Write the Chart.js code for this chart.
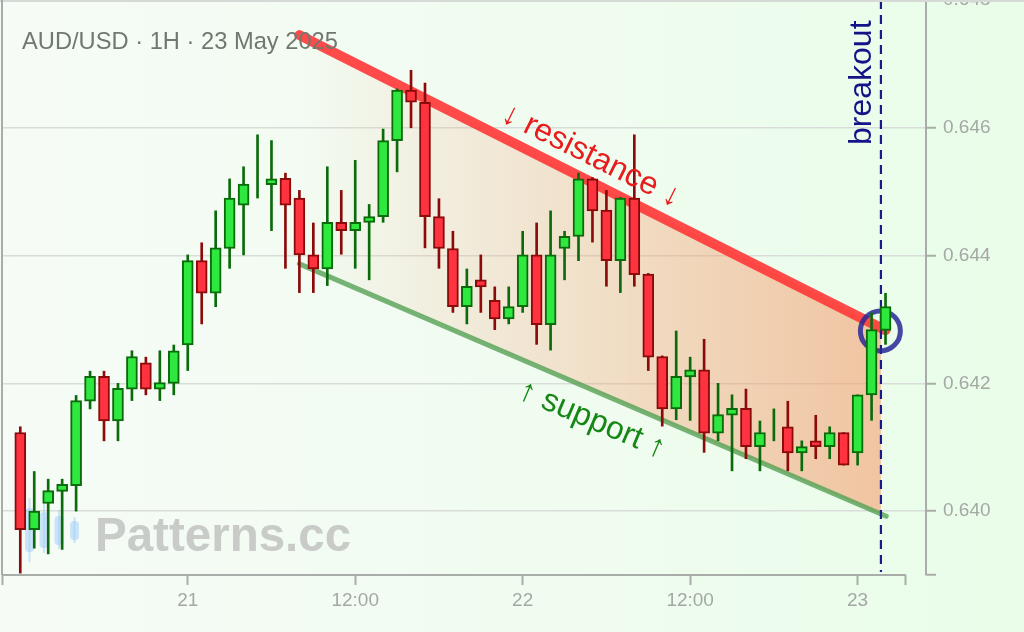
<!DOCTYPE html>
<html>
<head>
<meta charset="utf-8">
<title>AUD/USD 1H</title>
<script src="https://cdn.jsdelivr.net/npm/chart.js@4.4.1/dist/chart.umd.min.js"></script>
<style>
  html, body { margin: 0; padding: 0; width: 1024px; height: 632px; overflow: hidden; }
  body { background: linear-gradient(90deg, #f6fbf6 0%, #f0fcf0 55%, #e9fde9 100%); }
  #c { display: block; }
</style>
</head>
<body>
<canvas id="c" width="1024" height="632"></canvas>
<script>
// ------------------------------------------------------------
// data (hours counted from 20 May 00:00)
// ------------------------------------------------------------
const hours = [12, 13, 14, 15, 16, 17, 18, 19, 20, 21, 22, 23,
  24, 25, 26, 27, 28, 29, 30, 31, 32, 33, 34, 35,
  36, 37, 38, 39, 40, 41, 42, 43, 44, 45, 46, 47,
  48, 49, 50, 51, 52, 53, 54, 55, 56, 57, 58, 59,
  60, 61, 62, 63, 64, 65, 66, 67, 68, 69, 70, 71,
  72, 73, 74];

const opens = [0.64123, 0.63971, 0.64012, 0.64031, 0.64040, 0.64172, 0.64211, 0.64141, 0.64191, 0.64232, 0.64191, 0.64200,
  0.64260, 0.64392, 0.64341, 0.64411, 0.64479, 0.64512, 0.64511, 0.64521, 0.64490, 0.64401, 0.64379, 0.64452,
  0.64439, 0.64452, 0.64461, 0.64580, 0.64659, 0.64640, 0.64461, 0.64411, 0.64320, 0.64362, 0.64330, 0.64301,
  0.64320, 0.64401, 0.64292, 0.64411, 0.64430, 0.64520, 0.64471, 0.64392, 0.64490, 0.64371, 0.64242, 0.64160,
  0.64210, 0.64221, 0.64122, 0.64150, 0.64161, 0.64101, 0.64125, 0.64132, 0.64091, 0.64110, 0.64101, 0.64123,
  0.64091, 0.64182, 0.64283];
const highs = [0.64132, 0.64062, 0.64050, 0.64050, 0.64181, 0.64219, 0.64219, 0.64200, 0.64251, 0.64241, 0.64251, 0.64260,
  0.64401, 0.64420, 0.64470, 0.64520, 0.64539, 0.64589, 0.64580, 0.64529, 0.64502, 0.64451, 0.64539, 0.64502,
  0.64549, 0.64480, 0.64598, 0.64661, 0.64690, 0.64670, 0.64489, 0.64438, 0.64379, 0.64401, 0.64351, 0.64351,
  0.64438, 0.64451, 0.64470, 0.64438, 0.64529, 0.64522, 0.64502, 0.64491, 0.64589, 0.64372, 0.64243, 0.64282,
  0.64241, 0.64269, 0.64200, 0.64182, 0.64191, 0.64141, 0.64160, 0.64172, 0.64110, 0.64150, 0.64132, 0.64123,
  0.64182, 0.64310, 0.64341];
const lows = [0.63903, 0.63942, 0.63933, 0.63940, 0.64000, 0.64160, 0.64110, 0.64110, 0.64173, 0.64182, 0.64173, 0.64182,
  0.64220, 0.64293, 0.64320, 0.64380, 0.64401, 0.64490, 0.64439, 0.64380, 0.64342, 0.64342, 0.64353, 0.64402,
  0.64380, 0.64362, 0.64452, 0.64531, 0.64600, 0.64412, 0.64380, 0.64311, 0.64293, 0.64311, 0.64284, 0.64293,
  0.64311, 0.64261, 0.64252, 0.64362, 0.64392, 0.64421, 0.64352, 0.64342, 0.64352, 0.64220, 0.64133, 0.64143,
  0.64142, 0.64092, 0.64110, 0.64063, 0.64082, 0.64063, 0.64110, 0.64063, 0.64063, 0.64082, 0.64082, 0.64072,
  0.64072, 0.64142, 0.64261];
const closes = [0.63971, 0.64000, 0.64032, 0.64042, 0.64173, 0.64211, 0.64141, 0.64192, 0.64242, 0.64191, 0.64201, 0.64251,
  0.64392, 0.64341, 0.64412, 0.64490, 0.64512, 0.64512, 0.64520, 0.64479, 0.64401, 0.64379, 0.64452, 0.64439,
  0.64452, 0.64461, 0.64580, 0.64659, 0.64640, 0.64461, 0.64411, 0.64320, 0.64352, 0.64351, 0.64301, 0.64320,
  0.64401, 0.64292, 0.64401, 0.64430, 0.64520, 0.64470, 0.64392, 0.64490, 0.64370, 0.64241, 0.64160, 0.64211,
  0.64221, 0.64122, 0.64151, 0.64161, 0.64101, 0.64123, 0.64125, 0.64091, 0.64101, 0.64101, 0.64123, 0.64072,
  0.64182, 0.64284, 0.64320];

// channel lines
const resistanceX = [32.0, 74.0];
const resistanceY = [0.64745, 0.64283];
const supportX = [32.0, 74.05];
const supportY = [0.64387, 0.63992];
// shaded channel (ends at the breakout line)
const channelX = [32.0, 73.67];
const channelTop = [0.64745, 0.64288];
const channelBottom = [0.64387, 0.63995];

const breakoutHour = 73.67;
const breakoutPoint = [73.63, 0.64282];

// axes
const xMin = 10.69, xMax = 76.9, xDomainEnd = 75.46;
const xTicks = [10.69, 24, 36, 48, 60, 72, 75.46];
const xLabels = ["", "21", "12:00", "22", "12:00", "23", ""];
const yTicks = [0.639, 0.640, 0.642, 0.644, 0.646, 0.648];

// ------------------------------------------------------------
// styles
// ------------------------------------------------------------
const UP_FILL = "#2ee840", UP_LINE = "#0b6b0b";
const DN_FILL = "#ff3340", DN_LINE = "#8b0a0a";
const AXIS = "#a9ada9";
const GRID = "#d9ddd9";
const TICK_FONT = { family: "'Liberation Sans', Arial, sans-serif", size: 19 };
const TICK_COLOR = "#a4a8a4";

const isUp = hours.map((h, i) => closes[i] >= opens[i]);

const pts = (xs, ys) => xs.map((x, i) => ({ x, y: ys[i] }));

function channelFill(ctx) {
  const chart = ctx.chart;
  const area = chart.chartArea;
  if (!area) return "rgba(0,0,0,0)";
  const xs = chart.scales.x;
  const g = chart.ctx.createLinearGradient(xs.getPixelForValue(channelX[0]), 0,
                                           xs.getPixelForValue(channelX[1]), 0);
  g.addColorStop(0, "rgba(245,150,100,0.0)");
  g.addColorStop(0.5, "rgba(245,150,100,0.28)");
  g.addColorStop(1, "rgba(245,150,100,0.55)");
  return g;
}

// ------------------------------------------------------------
// overlay: watermark, breakout marker, texts, axis domain line
// ------------------------------------------------------------
const overlay = {
  id: "overlay",
  beforeDatasetsDraw(chart) {
    const c = chart.ctx;
    c.save();
    // little candle logo
    c.fillStyle = "rgba(160,205,250,0.5)";
    c.strokeStyle = "rgba(160,205,250,0.5)";
    c.lineWidth = 2;
    [[29.5, 498, 562, 508, 552], [44, 503, 553, 512, 548], [59, 510, 549, 516, 545], [74.5, 517, 543, 521, 540]]
      .forEach(([cx, w1, w2, b1, b2]) => {
        c.beginPath(); c.moveTo(cx, w1); c.lineTo(cx, w2); c.stroke();
        c.beginPath(); c.roundRect(cx - 4.5, b1, 9, b2 - b1, 4); c.fill();
      });
    c.fillStyle = "#c8cbc8";
    c.font = "bold 47.5px 'Liberation Sans', Arial, sans-serif";
    c.textAlign = "left";
    c.textBaseline = "alphabetic";
    c.fillText("Patterns.cc", 95, 551);
    c.restore();
  },
  beforeDatasetDraw(chart, args) {
    if (args.index !== 1) return; // before the wicks: under the candles
    const c = chart.ctx, xs = chart.scales.x, ys = chart.scales.y;
    const bx = xs.getPixelForValue(breakoutHour);
    c.save();
    c.strokeStyle = "#1a1a8c";
    c.lineWidth = 2.2;
    c.setLineDash([9, 6]);
    c.beginPath(); c.moveTo(bx, 0); c.lineTo(bx, chart.chartArea.bottom - 3); c.stroke();
    c.setLineDash([]);
    c.strokeStyle = "rgba(40,40,150,0.85)";
    c.lineWidth = 5;
    c.beginPath();
    c.arc(xs.getPixelForValue(breakoutPoint[0]), ys.getPixelForValue(breakoutPoint[1]), 20, 0, Math.PI * 2);
    c.stroke();
    c.restore();
  },
  afterDraw(chart) {
    const c = chart.ctx, xs = chart.scales.x, area = chart.chartArea;
    c.save();
    // frame
    c.fillStyle = "#d6dad6";
    c.fillRect(0, 0, 1024, 2);
    c.fillStyle = AXIS;
    c.fillRect(1, 0, 2, area.bottom);
    // x domain line
    c.strokeStyle = AXIS;
    c.lineWidth = 2;
    c.beginPath();
    c.moveTo(xs.getPixelForValue(xMin), area.bottom);
    c.lineTo(xs.getPixelForValue(xDomainEnd), area.bottom);
    c.stroke();

    // title
    c.fillStyle = "#70786f";
    c.font = "23.7px 'Liberation Sans', Arial, sans-serif";
    c.textAlign = "left";
    c.textBaseline = "alphabetic";
    c.fillText("AUD/USD · 1H · 23 May 2025", 22, 49);

    // channel labels
    c.font = "32px 'Liberation Sans', Arial, sans-serif";
    c.textAlign = "center";
    c.textBaseline = "middle";
    c.save();
    c.translate(591, 156);
    c.rotate(26.5 * Math.PI / 180);
    c.fillStyle = "#e81c1c";
    c.fillText("↓ resistance ↓", 0, 0);
    c.restore();
    c.save();
    c.translate(592, 420);
    c.rotate(23 * Math.PI / 180);
    c.fillStyle = "#168716";
    c.fillText("↑ support ↑", 0, 0);
    c.restore();

    // breakout label
    c.save();
    c.translate(871, 145);
    c.rotate(-Math.PI / 2);
    c.textAlign = "left";
    c.textBaseline = "alphabetic";
    c.fillStyle = "#141489";
    c.fillText("breakout", 0, 0);
    c.restore();
    c.restore();
  }
};

// ------------------------------------------------------------
// chart
// ------------------------------------------------------------
new Chart(document.getElementById("c"), {
  type: "bar",
  data: {
    datasets: [
      {
        label: "body",
        data: hours.map((h, i) => ({ x: h, y: [opens[i], closes[i]] })),
        backgroundColor: isUp.map(u => u ? UP_FILL : DN_FILL),
        borderColor: isUp.map(u => u ? UP_LINE : DN_LINE),
        borderWidth: 2,
        borderSkipped: false,
        barThickness: 11,
        grouped: false,
        order: 0
      },
      {
        label: "wick",
        data: hours.map((h, i) => ({ x: h, y: [lows[i], highs[i]] })),
        backgroundColor: isUp.map(u => u ? UP_LINE : DN_LINE),
        borderWidth: 0,
        barThickness: 2,
        grouped: false,
        order: 1
      },
      {
        type: "line",
        label: "resistance",
        data: pts(resistanceX, resistanceY),
        borderColor: "rgba(255,55,55,0.9)",
        borderWidth: 10,
        borderCapStyle: "round",
        pointRadius: 0,
        fill: false,
        order: 2
      },
      {
        type: "line",
        label: "support",
        data: pts(supportX, supportY),
        borderColor: "rgba(85,160,85,0.8)",
        borderWidth: 5,
        borderCapStyle: "round",
        pointRadius: 0,
        fill: false,
        order: 3
      },
      {
        type: "line",
        label: "channel",
        data: pts(channelX, channelTop),
        borderWidth: 0,
        pointRadius: 0,
        backgroundColor: channelFill,
        fill: "+1",
        order: 4
      },
      {
        type: "line",
        label: "channel-bottom",
        data: pts(channelX, channelBottom),
        borderWidth: 0,
        pointRadius: 0,
        fill: false,
        order: 5
      }
    ]
  },
  options: {
    responsive: false,
    animation: false,
    devicePixelRatio: 1,
    layout: { padding: { left: 2, right: 0, top: 0, bottom: 0 } },
    plugins: { legend: { display: false }, tooltip: { enabled: false } },
    scales: {
      x: {
        type: "linear",
        min: xMin,
        max: xMax,
        offset: false,
        afterBuildTicks: s => { s.ticks = xTicks.map(v => ({ value: v })); },
        afterFit: s => { s.height = 57; s.paddingLeft = 0; s.paddingRight = 0; },
        ticks: {
          autoSkip: false,
          maxRotation: 0,
          padding: 4,
          font: TICK_FONT,
          color: TICK_COLOR,
          callback: (v, i) => xLabels[i]
        },
        grid: {
          display: true,
          offset: false,
          drawOnChartArea: false,
          drawTicks: true,
          tickLength: 10,
          tickWidth: 2,
          tickColor: AXIS,
          color: AXIS
        },
        border: { display: false }
      },
      y: {
        position: "right",
        min: 0.639,
        max: 0.648,
        afterBuildTicks: s => { s.ticks = yTicks.map(v => ({ value: v })); },
        afterFit: s => { s.width = 98; s.paddingTop = 0; s.paddingBottom = 0; },
        ticks: {
          padding: 7,
          font: TICK_FONT,
          color: TICK_COLOR,
          callback: (v, i) => i === 0 ? "" : v.toFixed(3)
        },
        grid: {
          color: ctx => (ctx.index === 0 ? "rgba(0,0,0,0)" : GRID),
          lineWidth: 1.5,
          tickLength: 10,
          tickWidth: 2,
          tickColor: AXIS
        },
        border: { display: true, color: AXIS, width: 2 }
      }
    }
  },
  plugins: [overlay]
});
</script>
</body>
</html>
